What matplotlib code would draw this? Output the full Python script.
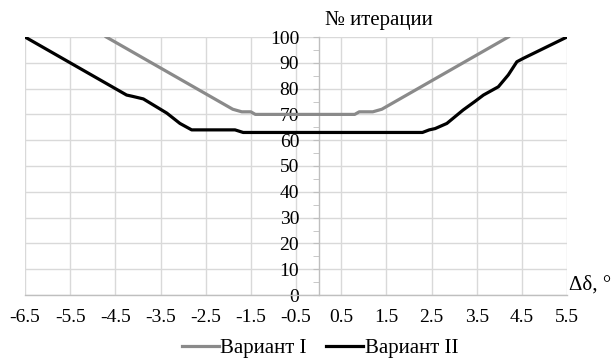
import matplotlib.pyplot as plt
from matplotlib.ticker import MultipleLocator

plt.rcParams['font.family'] = ['Liberation Serif', 'DejaVu Serif']
plt.rcParams['font.size'] = 14

# Вариант I (серая линия)
x_var1 = [-4.7, -3.0, -1.9, -1.7, -1.5, -1.4, 0.8, 0.9, 1.2, 1.4, 4.2]
y_var1 = [100, 83, 72, 71, 71, 70, 70, 71, 71, 72, 100]

# Вариант II (чёрная линия)
x_var2 = [-6.5, -4.25, -4.12, -4.0, -3.88, -3.36, -3.07, -2.81, -1.85, -1.67,
          2.3, 2.45, 2.58, 2.84, 3.2, 3.46, 3.65, 3.98, 4.2, 4.39, 4.53, 5.5]
y_var2 = [100, 77.5, 77, 76.5, 76, 70.5, 66.5, 64, 64, 63,
          63, 64, 64.5, 66.5, 71.7, 75, 77.5, 80.7, 85.3, 90.4, 91.7, 100]

xticks = [-6.5, -5.5, -4.5, -3.5, -2.5, -1.5, -0.5, 0.5, 1.5, 2.5, 3.5, 4.5, 5.5]

fig = plt.figure(figsize=(6.11, 3.59), dpi=100)
ax = fig.add_axes([25 / 611, 1 - 295 / 359, 542 / 611, 258 / 359])

ax.plot(x_var1, y_var1, color='#8a8a8a', lw=2.3, label='Вариант I', zorder=3)
ax.plot(x_var2, y_var2, color='black', lw=2.3, label='Вариант II', zorder=3)

ax.set_xlim(-6.5, 5.5)
ax.set_ylim(0, 100)
ax.set_xticks(xticks)
ax.set_xticklabels([f'{v:g}' for v in xticks])
ax.yaxis.set_major_locator(MultipleLocator(10))
ax.yaxis.set_minor_locator(MultipleLocator(5))

ax.grid(True, color='#d9d9d9', lw=1.0, zorder=0)
ax.set_axisbelow(True)

for s in ['top', 'right']:
    ax.spines[s].set_visible(False)
ax.spines['left'].set_position(('data', 0))
ax.spines['left'].set_color('#bfbfbf')
ax.spines['bottom'].set_color('#bfbfbf')
ax.spines['left'].set_linewidth(1.0)
ax.spines['bottom'].set_linewidth(1.0)

ax.tick_params(axis='x', length=0, pad=10, labelsize=14)
ax.tick_params(axis='y', which='major', length=4, color='#bfbfbf', pad=10, labelsize=14)
ax.tick_params(axis='y', which='minor', length=4, color='#bfbfbf')

fig.text(325 / 611, 1 - 21 / 359, '№ итерации', ha='left', va='center', fontsize=15)
fig.text(569 / 611, 1 - 285 / 359, 'Δδ, °', ha='left', va='center', fontsize=15)

fig.legend(loc='center', bbox_to_anchor=(320 / 611, 1 - 348 / 359), ncol=2,
           frameon=False, handlelength=1.78, handletextpad=0.05, columnspacing=0.95,
           fontsize=15, borderaxespad=0, borderpad=0)

fig.savefig('out.png', dpi=100)
